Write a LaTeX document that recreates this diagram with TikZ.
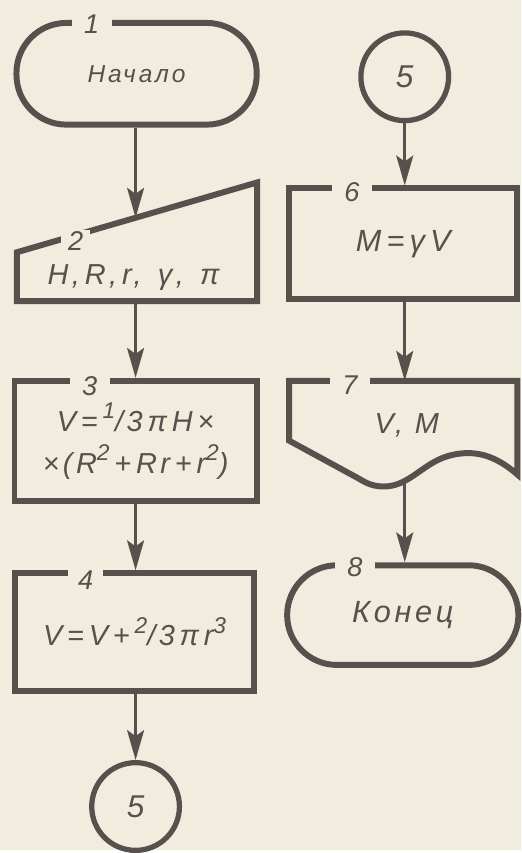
\documentclass[tikz,border=0pt]{standalone}
\usepackage{fontspec}
\setmainfont{Liberation Sans}[LetterSpace=12]
\usepackage{xcolor}
\usepackage{tikz}
\usetikzlibrary{arrows.meta,positioning,calc}
\definecolor{paper}{RGB}{240,236,222}
\definecolor{ink}{RGB}{88,80,76}
\newcommand{\sups}[1]{\raisebox{0.42em}{\fontsize{13}{13}\selectfont #1}}

\begin{document}
\begin{tikzpicture}[
    x=0.02cm, y=-0.02cm,
    font=\fontsize{16.5}{21}\selectfont\itshape,
    >={Stealth[length=6mm,width=3.4mm,inset=1.2mm]},
    outline/.style={draw=ink, line width=3.4pt, text=ink},
    termbox/.style={outline, rectangle, rounded corners=1cm, inner sep=0pt},
    procbox/.style={outline, rectangle, inner sep=0pt, align=center},
    connbox/.style={outline, circle, line width=3pt, inner sep=0pt, minimum size=1.76cm,
        font=\fontsize{18}{18}\selectfont\itshape},
    flow/.style={->, draw=ink, line width=1.7pt},
    num/.style={fill=paper, text=ink, inner xsep=0.25cm, inner ysep=1pt,
        font=\fontsize{15.5}{16}\selectfont\itshape}
]
% Paper
\fill[paper] (0,0) rectangle (523,853);

% Left column
\node[termbox, minimum width=4.82cm, minimum height=2.04cm,
    font=\fontsize{14}{14}\selectfont\itshape] (t1) at (137,74) {Начало};
\coordinate (m2a) at (17,253);
\coordinate (m2b) at (258,183);
\draw[outline] (m2a) -- (m2b) -- (258,302) -- (17,302) -- cycle;
\coordinate (in2) at ($(m2a)!0.4938!(m2b)$);
\coordinate (out2) at (136,302);
\node[text=ink] (d2) at (134,278) {H,\,R,\,r,\, γ,\, π};
\node[procbox, minimum width=4.86cm, minimum height=2.42cm,
    font=\fontsize{16.5}{24}\selectfont\itshape] (b3) at (136,442.5)
    {V\,=\,\sups{1}/3\,π\,H\,×\\×(R\sups{2}\,+\,Rr\,+\,r\sups{2})};
\node[procbox, minimum width=4.78cm, minimum height=2.36cm] (b4) at (135,634)
    {V\,=\,V\,+\,\sups{2}/3\,π\,r\sups{3}};
\node[connbox] (c5a) at (136,809) {5};

% Right column
\node[connbox] (c5b) at (406,77) {5};
\node[procbox, minimum width=4.58cm, minimum height=2.22cm,
    font=\fontsize{17.5}{21}\selectfont\itshape] (b6) at (404.5,244.5) {M\,=\,γ\,V};
\draw[outline] (519,476) .. controls (495,455) and (475,452) .. (455,456)
    .. controls (425,462) and (412,488) .. (385,488)
    .. controls (372,488) and (365,483) .. (358,479)
    -- (290,442) -- (290,382) -- (519,382) -- cycle;
\coordinate (in7) at (406,382);
\coordinate (out7) at (406,482);
\node[text=ink] (d7) at (408,427) {V, M};
\node[termbox, minimum width=4.64cm, minimum height=2cm,
    font=\fontsize{17.5}{21}\selectfont\itshape] (t8) at (404,617) {Конец};

% Block numbers
\node[num] (n1) at (92,24) {1};
\node[num, inner xsep=0.14cm] (n2) at (76,242) {2};
\node[num] (n3) at (90,387) {3};
\node[num, inner xsep=0.2cm] (n4) at (86,582) {4};
\node[num] (n6) at (353,193) {6};
\node[num] (n7) at (351,386) {7};
\node[num] (n8) at (356,569) {8};

% Flow lines
\draw[flow] (in2 |- t1.south) -- (in2);
\draw[flow] (out2) -- (b3.north -| out2);
\draw[flow] (b3.south -| out2) -- (b4.north -| out2);
\draw[flow] (b4.south -| c5a) -- (c5a.north);
\draw[flow] (c5b.south) -- (b6.north -| c5b);
\draw[flow] (b6.south -| in7) -- (in7);
\draw[flow] (out7) -- (t8.north -| out7);

\end{tikzpicture}
\end{document}
